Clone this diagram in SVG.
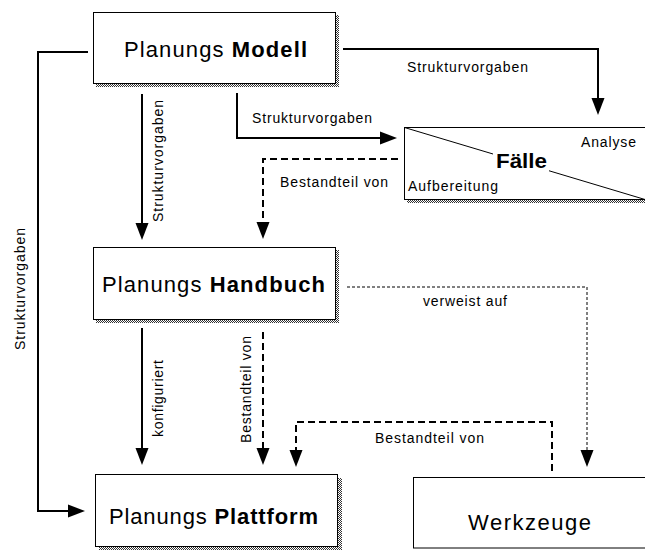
<svg xmlns="http://www.w3.org/2000/svg" width="645" height="550" viewBox="0 0 645 550">
  <style>
    text { font-family: "Liberation Sans", Arial, sans-serif; fill: #000; }
    .title { font-size: 22px; }
    .b { font-weight: bold; }
    .lbl { font-size: 14px; }
    .box { fill: #fff; stroke: #000; stroke-width: 1; }
    .shadow { fill: url(#stipple); }
    .solid { fill: none; stroke: #000; stroke-width: 2; }
    .dash { fill: none; stroke: #000; stroke-width: 2; stroke-dasharray: 7 4; }
    .dot { fill: none; stroke: #000; stroke-width: 1; stroke-dasharray: 3 2; }
  </style>
  <defs>
    <pattern id="stipple" width="2" height="2" patternUnits="userSpaceOnUse">
      <rect width="2" height="2" fill="#fff"/>
      <rect width="1" height="1" fill="#333"/>
      <rect x="1" y="1" width="1" height="1" fill="#333"/>
    </pattern>
    <marker id="arrow" markerUnits="userSpaceOnUse" markerWidth="18" markerHeight="14" viewBox="0 -7 18 14" refX="13" refY="0" orient="auto">
      <path d="M0,-6.5 L17,0 L0,6.5 Z" fill="#000"/>
    </marker>
  </defs>

  <rect width="645" height="550" fill="#fff"/>

  <!-- connectors -->
  <g id="connectors">
    <path class="solid" d="M142,94 V236" marker-end="url(#arrow)"/>
    <path class="solid" d="M237,93 V138 H393" marker-end="url(#arrow)"/>
    <path class="solid" d="M343,49 H598 V111" marker-end="url(#arrow)"/>
    <path class="dash" d="M398,159 H263 V235" marker-end="url(#arrow)"/>
    <path class="solid" d="M88,52 H38 V511 H81" marker-end="url(#arrow)"/>
    <path class="solid" d="M142,328 V461" marker-end="url(#arrow)"/>
    <path class="dash" d="M263,332 V461" marker-end="url(#arrow)"/>
    <path class="dash" d="M552,471 V422 H296 V463" marker-end="url(#arrow)"/>
    <path class="dot" d="M347,287 H587 V463" marker-end="url(#arrow)"/>

    <text class="lbl" x="407" y="72" textLength="121" lengthAdjust="spacing">Strukturvorgaben</text>
    <text class="lbl" x="252" y="123" textLength="120" lengthAdjust="spacing">Strukturvorgaben</text>
    <text class="lbl" x="280" y="187" textLength="108" lengthAdjust="spacing">Bestandteil von</text>
    <text class="lbl" transform="translate(163,222) rotate(-90)" textLength="122" lengthAdjust="spacing">Strukturvorgaben</text>
    <text class="lbl" transform="translate(25,350) rotate(-90)" textLength="122" lengthAdjust="spacing">Strukturvorgaben</text>
    <text class="lbl" transform="translate(163,437) rotate(-90)" textLength="77" lengthAdjust="spacing">konfiguriert</text>
    <text class="lbl" transform="translate(251,443) rotate(-90)" textLength="107" lengthAdjust="spacing">Bestandteil von</text>
    <text class="lbl" x="423" y="306" textLength="84" lengthAdjust="spacing">verweist auf</text>
    <text class="lbl" x="375" y="443" textLength="109" lengthAdjust="spacing">Bestandteil von</text>
  </g>

  <!-- Planungs Modell -->
  <g id="modell">
    <rect class="shadow" x="96" y="15" width="243" height="72"/>
    <rect class="box" x="93.5" y="12.5" width="242" height="71"/>
    <text class="title" x="124" y="57" textLength="183" lengthAdjust="spacing">Planungs <tspan class="b">Modell</tspan></text>
  </g>

  <!-- Fälle -->
  <g id="faelle">
    <rect class="shadow" x="407" y="199" width="240" height="4"/>
    <rect class="box" x="404.5" y="127.5" width="250" height="72"/>
    <line x1="404.5" y1="127.5" x2="645" y2="199.5" stroke="#000" stroke-width="1"/>
    <rect x="493" y="148" width="56" height="24" fill="#fff"/>
    <text class="b" style="font-size:21px" x="496" y="168" textLength="51" lengthAdjust="spacingAndGlyphs">Fälle</text>
    <text class="lbl" x="581" y="147" textLength="55" lengthAdjust="spacing">Analyse</text>
    <text class="lbl" x="408" y="191" textLength="90" lengthAdjust="spacing">Aufbereitung</text>
  </g>

  <!-- Planungs Handbuch -->
  <g id="handbuch">
    <rect class="shadow" x="96" y="250" width="243" height="73"/>
    <rect class="box" x="93.5" y="247.5" width="242" height="72"/>
    <text class="title" x="102" y="292" textLength="223" lengthAdjust="spacing">Planungs <tspan class="b">Handbuch</tspan></text>
  </g>

  <!-- Planungs Plattform -->
  <g id="plattform">
    <rect class="shadow" x="99" y="478" width="243" height="72"/>
    <rect class="box" x="95.5" y="474.5" width="242" height="72"/>
    <text class="title" x="109" y="524" textLength="209" lengthAdjust="spacing">Planungs <tspan class="b">Plattform</tspan></text>
  </g>

  <!-- Werkzeuge -->
  <g id="werkzeuge">
    <rect class="box" x="413.5" y="477.5" width="250" height="70.5"/>
    <text class="title" x="468" y="530" textLength="123" lengthAdjust="spacing">Werkzeuge</text>
  </g>
</svg>
